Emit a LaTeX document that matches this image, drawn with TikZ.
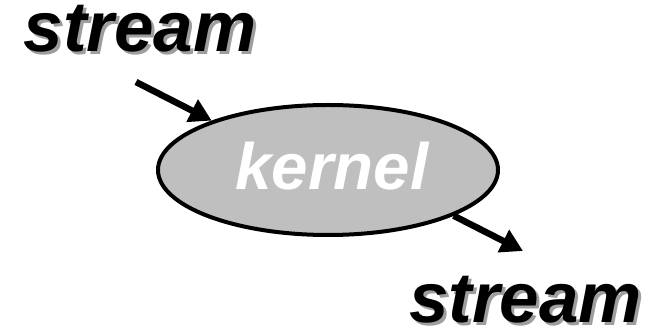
\documentclass[tikz,border=0pt]{standalone}
\usepackage{fontspec}
\setmainfont{Liberation Sans}
\usetikzlibrary{shapes.geometric,arrows.meta}
\tikzset{
  stream text/.style={font=\fontsize{71}{71}\selectfont\bfseries\itshape, inner sep=0pt, anchor=base},
  stream shadow/.style={stream text, text=black!38},
  flow/.style={line width=6.5pt, -{Triangle[length=22pt,width=24pt]}},
  kernelbox/.style={ellipse, draw=black, line width=4pt, fill=black!25,
    minimum width=340pt, minimum height=130pt, inner sep=0pt}
}
\begin{document}
\begin{tikzpicture}[x=1pt,y=1pt]
  \useasboundingbox (0,0) rectangle (656,334);
  % input stream label with drop shadow
  \node[stream shadow] at (143,279) {stream};
  \node[stream text] (src) at (140,282) {stream};
  % kernel
  \node[kernelbox] (k) at (328,164) {};
  \node[font=\fontsize{65.5}{65.5}\selectfont\bfseries\itshape, inner sep=0pt,
        anchor=base, text=white] (kt) at (332,144) {kernel};
  % output stream label with drop shadow
  \node[stream shadow] at (528.5,8) {stream};
  \node[stream text] (dst) at (525.5,11) {stream};
  % connectors
  \coordinate (a1) at (136,252);
  \coordinate (b2) at (523,83);
  \draw[flow] (a1) -- (k.157);
  \draw[flow] (k.-20) -- (b2);
\end{tikzpicture}
\end{document}
